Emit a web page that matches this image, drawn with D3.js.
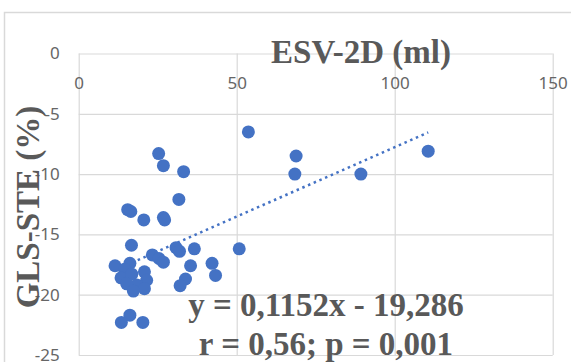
<!DOCTYPE html>
<html>
<head>
<meta charset="utf-8">
<script src="https://cdn.jsdelivr.net/npm/d3@7"></script>
<style>
  body { margin: 0; background: #fff; }
  svg { display: block; }
</style>
</head>
<body>
<div id="chart"></div>
<script>
// ESV-2D (ml) vs GLS-STE (%)
const esv = [25.3, 26.8, 33.2, 31.7, 15.5, 16.5, 20.6, 26.8, 27.2, 16.7,
  30.8, 31.9, 36.6, 50.8, 23.3, 25.4, 26.8, 35.4, 42.2, 43.3,
  33.8, 32.1, 11.5, 16.2, 14.5, 13.4, 16.8, 20.8, 21.5, 18.4,
  20.8, 15.2, 17.3, 16.2, 13.5, 20.3, 53.7, 68.8, 68.4, 89.3, 110.6];
const gls = [-8.3, -9.3, -9.8, -12.1, -12.95, -13.1, -13.8, -13.6, -13.8, -15.9,
  -16.1, -16.4, -16.2, -16.2, -16.7, -17.0, -17.3, -17.6, -17.4, -18.4,
  -18.7, -19.25, -17.6, -17.4, -17.9, -18.6, -18.3, -18.1, -18.8, -19.2,
  -19.5, -19.1, -19.7, -21.7, -22.3, -22.3, -6.5, -8.5, -10.0, -10.0, -8.1];
const xTicks = [0, 50, 100, 150];
const yTicks = [0, -5, -10, -15, -20, -25];
const slope = 0.1152, intercept = -19.286;
const eqLines = ["y = 0,1152x - 19,286", "r = 0,56; p = 0,001"];

const width = 571, height = 362;
const plotL = 78.7, plotR = 552.7, plotT = 53.5, plotB = 355;
const blue = "#4472C4", grey = "#595959", grid = "#d9d9d9";

const x = d3.scaleLinear().domain([0, 150]).range([plotL, plotR]);
const y = d3.scaleLinear().domain([0, -25]).range([plotT, plotB]);

const svg = d3.select("#chart").append("svg")
  .attr("width", width)
  .attr("height", height);

svg.append("rect")
  .attr("width", width).attr("height", height)
  .attr("fill", "#fff");

// chart frame
svg.append("rect")
  .attr("x", 4.5).attr("y", 12.5)
  .attr("width", 700).attr("height", 500)
  .attr("fill", "none")
  .attr("stroke", grid)
  .attr("stroke-width", 1.5);

// grid
svg.append("g")
  .attr("transform", `translate(${plotL},0)`)
  .call(d3.axisLeft(y).tickValues(yTicks).tickSize(-(plotR - plotL)).tickFormat(""))
  .call(g => g.select(".domain").remove())
  .call(g => g.selectAll("line").attr("stroke", grid).attr("stroke-width", 1.2));

svg.append("g")
  .attr("transform", `translate(0,${plotB})`)
  .call(d3.axisBottom(x).tickValues(xTicks).tickSize(-(plotB - plotT)).tickFormat(""))
  .call(g => g.select(".domain").remove())
  .call(g => g.selectAll("line").attr("stroke", grid).attr("stroke-width", 1.2));

// tick labels
svg.append("g")
  .attr("transform", `translate(0,${plotT})`)
  .call(d3.axisBottom(x).tickValues(xTicks).tickSize(0).tickPadding(0).tickFormat(d => String(d)))
  .call(g => g.select(".domain").remove())
  .call(g => g.selectAll("text")
    .attr("y", 35).attr("dy", null)
    .attr("fill", "#666")
    .attr("font-family", "'Noto Sans', sans-serif")
    .attr("font-size", 17));

svg.append("g")
  .attr("transform", `translate(${plotL},0)`)
  .call(d3.axisLeft(y).tickValues(yTicks).tickSize(0).tickPadding(0).tickFormat(d => String(d)))
  .call(g => g.select(".domain").remove())
  .call(g => g.selectAll("text")
    .attr("x", -19)
    .attr("fill", "#666")
    .attr("font-family", "'Noto Sans', sans-serif")
    .attr("font-size", 17));

// trendline
const xExt = d3.extent(esv);
svg.append("line")
  .attr("x1", x(xExt[0])).attr("y1", y(slope * xExt[0] + intercept))
  .attr("x2", x(xExt[1])).attr("y2", y(slope * xExt[1] + intercept))
  .attr("stroke", blue)
  .attr("stroke-width", 2.5)
  .attr("stroke-dasharray", "2.5 3.7");

// points
svg.append("g")
  .selectAll("circle")
  .data(esv.map((d, i) => [d, gls[i]]))
  .join("circle")
    .attr("cx", d => x(d[0]))
    .attr("cy", d => y(d[1]))
    .attr("r", 6.5)
    .attr("fill", blue);

// titles
svg.append("text")
  .attr("x", 361).attr("y", 63)
  .attr("text-anchor", "middle")
  .attr("font-family", "'Liberation Serif', serif")
  .attr("font-weight", "bold")
  .attr("font-size", 33)
  .attr("fill", grey)
  .text("ESV-2D (ml)");

svg.append("text")
  .attr("transform", "translate(39,207) rotate(-90)")
  .attr("text-anchor", "middle")
  .attr("font-family", "'Liberation Serif', serif")
  .attr("font-weight", "bold")
  .attr("font-size", 33)
  .attr("fill", grey)
  .text("GLS-STE (%)");

svg.append("g")
  .selectAll("text")
  .data(eqLines)
  .join("text")
    .attr("x", 326)
    .attr("y", (d, i) => 316 + i * 39)
    .attr("text-anchor", "middle")
    .attr("font-family", "'Liberation Serif', serif")
    .attr("font-weight", "bold")
    .attr("font-size", 33)
    .attr("fill", grey)
    .text(d => d);
</script>
</body>
</html>
